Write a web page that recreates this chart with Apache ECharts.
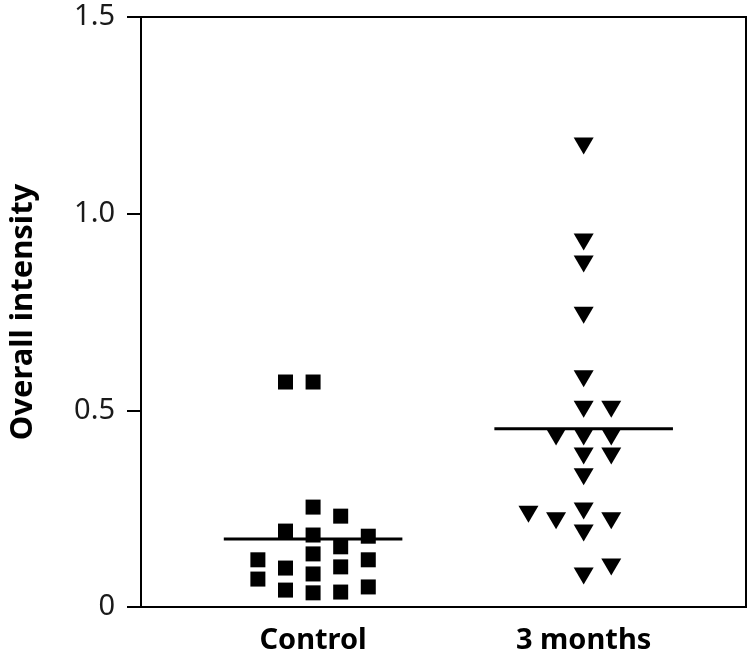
<!DOCTYPE html>
<html>
<head>
<meta charset="utf-8">
<script src="https://cdn.jsdelivr.net/npm/echarts@6/dist/echarts.min.js"></script>
<style>html,body{margin:0;padding:0;background:#fff}#c{width:750px;height:661px}</style>
</head>
<body>
<div id="c"></div>
<script>
// Group categories and their axis positions
var categories = ['Control', '3 months'];
var groupPos = [1, 2];
// Control values (squares) and their jitter column index
var controlValues = [0.572, 0.572, 0.254, 0.231, 0.193, 0.183, 0.180, 0.153, 0.135, 0.120, 0.120, 0.099, 0.102, 0.084, 0.071, 0.051, 0.043, 0.038, 0.036];
var controlCols   = [-1, 0, 0, 1, -1, 0, 2, 1, 0, -2, 2, -1, 1, 0, -2, 2, -1, 1, 0];
// 3 months values (triangles) and their jitter column index
var monthsValues = [1.172, 0.928, 0.872, 0.742, 0.580, 0.503, 0.503, 0.432, 0.432, 0.432, 0.384, 0.384, 0.331, 0.236, 0.219, 0.244, 0.219, 0.188, 0.102, 0.079];
var monthsCols   = [0, 0, 0, 0, 0, 0, 1, -1, 0, 1, 0, 1, 0, -2, -1, 0, 1, 0, 1, 0];
// Group medians
var medians = [0.173, 0.453];
// Y axis tick labels
var yTicks = [0, 0.5, 1.0, 1.5];
var yTickLabels = ['0', '0.5', '1.0', '1.5'];

var colStep = 0.102;
var halfLine = 0.33;

function pts(vals, cols, gx) {
  return vals.map(function (v, i) { return [gx + cols[i] * colStep, v]; });
}
function medLine(i) {
  return [[groupPos[i] - halfLine, medians[i]], [groupPos[i] + halfLine, medians[i]]];
}

var chart = echarts.init(document.getElementById('c'), null, {renderer: 'canvas'});
chart.setOption({
  animation: false,
  backgroundColor: '#fff',
  grid: {left: 136, right: 4, top: 17, bottom: 54, show: true, borderColor: '#000', borderWidth: 2, backgroundColor: 'transparent'},
  xAxis: {
    type: 'value', min: 0.364, max: 2.6,
    splitLine: {show: false},
    axisLine: {show: true, lineStyle: {color: '#000', width: 2}},
    axisTick: {show: false},
    axisLabel: {
      customValues: groupPos,
      margin: 19,
      fontFamily: 'Noto Sans', fontWeight: 'bold', fontSize: 29, color: '#000',
      formatter: function (v) { var i = groupPos.indexOf(Math.round(v)); return i >= 0 ? categories[i] : ''; }
    }
  },
  yAxis: {
    type: 'value', min: 0, max: 1.5, interval: 0.5,
    name: 'Overall intensity', nameLocation: 'middle', nameRotate: 90, nameGap: 102,
    nameTextStyle: {fontFamily: 'Noto Sans', fontWeight: 'bold', fontSize: 31, color: '#000'},
    splitLine: {show: false},
    axisLine: {show: true, onZero: false, lineStyle: {color: '#000', width: 2}},
    axisTick: {show: true, inside: false, length: 14, lineStyle: {color: '#000', width: 2}},
    axisLabel: {
      margin: 26, fontFamily: 'Noto Sans', fontSize: 29, color: '#1a1a1a',
      formatter: function (v) { var i = yTicks.indexOf(v); return i >= 0 ? yTickLabels[i] : ''; }
    }
  },
  series: [
    {type: 'scatter', data: pts(controlValues, controlCols, groupPos[0]), symbol: 'rect', symbolSize: 15, itemStyle: {color: '#000', opacity: 1}, z: 3},
    {type: 'scatter', data: pts(monthsValues, monthsCols, groupPos[1]), symbol: 'triangle', symbolRotate: 180, symbolSize: [20, 17], itemStyle: {color: '#000', opacity: 1}, z: 3},
    {type: 'line', data: medLine(0), symbol: 'none', lineStyle: {color: '#000', width: 3}, z: 4},
    {type: 'line', data: medLine(1), symbol: 'none', lineStyle: {color: '#000', width: 3}, z: 4}
  ]
});
</script>
</body>
</html>
